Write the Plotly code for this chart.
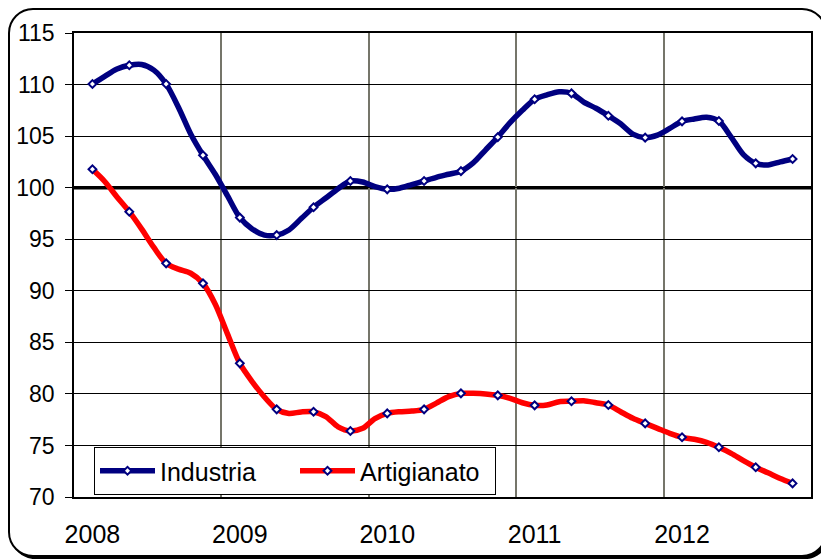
import plotly.graph_objects as go

# ---------------- data ----------------
years = ["2008", "2009", "2010", "2011", "2012"]
# month index counted from Jan 2008 = 0  (Feb 2008 .. Nov 2012)
month_index = list(range(1, 59))
industria = [
    110.05, 110.8, 111.5, 111.87, 111.95, 111.4, 110.05, 107.8, 105.2, 103.14,
    101.3, 99.2, 97.1, 96.0, 95.4, 95.4, 95.9, 97.0, 98.1, 99.0,
    99.9, 100.65, 100.55, 100.1, 99.84, 99.95, 100.3, 100.65, 101.0, 101.3,
    101.6, 102.4, 103.65, 104.9, 106.3, 107.5, 108.57, 109.0, 109.3, 109.15,
    108.3, 107.7, 106.98, 106.2, 105.2, 104.85, 105.1, 105.75, 106.43, 106.66,
    106.82, 106.46, 104.9, 103.2, 102.36, 102.2, 102.5, 102.78,
]
artigianato = [
    101.78, 100.6, 99.1, 97.67, 96.0, 94.2, 92.66, 92.1, 91.7, 90.72,
    88.7, 85.8, 82.96, 81.2, 79.7, 78.5, 78.1, 78.25, 78.27, 77.8,
    76.8, 76.4, 76.66, 77.6, 78.11, 78.27, 78.33, 78.5, 79.1, 79.73,
    80.05, 80.05, 80.0, 79.86, 79.57, 79.14, 78.89, 78.92, 79.24, 79.28,
    79.34, 79.14, 78.92, 78.27, 77.63, 77.14, 76.66, 76.17, 75.79, 75.6,
    75.3, 74.82, 74.23, 73.52, 72.88, 72.35, 71.8, 71.32,
]
reference_level = 100
marker_step = 3  # markers every quarter

# ---------------- layout geometry (pixels) ----------------
OFF = 8                      # page body margin
W, H = 829 - OFF, 560 - OFF
L, T = 74 - OFF, 33 - OFF
R = W - (811 - OFF)
B = H - (497 - OFF)
PW, PH = W - L - R, H - T - B


def px(xp):  # page x pixel -> paper
    return (xp - OFF - L) / PW


def py(yp):  # page y pixel -> paper
    return (H - B - (yp - OFF)) / PH


def rounded_rect(x0, y0, x1, y1, r):
    k = 0.5523 * r
    pts = [
        f"M{px(x0 + r)},{py(y0)}",
        f"L{px(x1 - r)},{py(y0)}",
        f"C{px(x1 - r + k)},{py(y0)} {px(x1)},{py(y0 + r - k)} {px(x1)},{py(y0 + r)}",
        f"L{px(x1)},{py(y1 - r)}",
        f"C{px(x1)},{py(y1 - r + k)} {px(x1 - r + k)},{py(y1)} {px(x1 - r)},{py(y1)}",
        f"L{px(x0 + r)},{py(y1)}",
        f"C{px(x0 + r - k)},{py(y1)} {px(x0)},{py(y1 - r + k)} {px(x0)},{py(y1 - r)}",
        f"L{px(x0)},{py(y0 + r)}",
        f"C{px(x0)},{py(y0 + r - k)} {px(x0 + r - k)},{py(y0)} {px(x0 + r)},{py(y0)}",
        "Z",
    ]
    return " ".join(pts)


x = [k + 0.5 for k in month_index]
NAVY = "#000080"
RED = "#FF0000"
FONT = "Liberation Sans, Arial, sans-serif"

fig = go.Figure()
series = [("Industria", industria, NAVY), ("Artigianato", artigianato, RED)]
marker_style = dict(symbol="diamond", size=6, color="white", line=dict(color=NAVY, width=2))

for name, vals, color in series:
    fig.add_trace(go.Scatter(
        x=x, y=vals, mode="lines",
        line=dict(color=color, width=5.5, shape="spline", smoothing=0.8),
        showlegend=False, hoverinfo="skip"))
for name, vals, color in series:
    fig.add_trace(go.Scatter(
        x=x[::marker_step], y=vals[::marker_step], mode="markers",
        marker=marker_style, showlegend=False))
for name, vals, color in series:
    fig.add_trace(go.Scatter(
        x=[None], y=[None], mode="lines+markers", name=name,
        line=dict(color=color, width=5.5), marker=marker_style))

shapes = [
    # chart frame with shadow
    dict(type="path", xref="paper", yref="paper", layer="below",
         path=rounded_rect(11, 11, 829, 559, 24),
         fillcolor="black", line=dict(width=0)),
    dict(type="path", xref="paper", yref="paper", layer="below",
         path=rounded_rect(9, 9, 826, 556, 24),
         fillcolor="white", line=dict(color="black", width=2)),
    # 100 reference line
    dict(type="line", xref="x", yref="y", x0=0, x1=60,
         y0=reference_level, y1=reference_level, layer="below",
         line=dict(color="black", width=3.5)),
]

fig.update_layout(
    width=W, height=H,
    margin=dict(l=L, r=R, t=T, b=B, autoexpand=False),
    paper_bgcolor="white",
    plot_bgcolor="#FFFFCC",
    font=dict(family=FONT, color="black"),
    shapes=shapes,
    showlegend=True,
    legend=dict(
        orientation="h", x=px(94), y=py(447), xanchor="left", yanchor="top",
        bgcolor="white", bordercolor="black", borderwidth=1,
        font=dict(size=25, family=FONT, color="black"),
        itemwidth=55, entrywidth=130, traceorder="normal",
    ),
    xaxis=dict(
        range=[0, 60],
        tickmode="array",
        tickvals=[1.5 + 12 * i for i in range(len(years))],
        ticktext=years,
        ticks="", showgrid=False, zeroline=False,
        tickfont=dict(size=25, family=FONT, color="black"),
        ticklabelstandoff=14,
        showline=True, linecolor="black", linewidth=1.5, mirror=True,
        minor=dict(tickmode="array", tickvals=[12, 24, 36, 48],
                   showgrid=True, gridcolor="#75756a", gridwidth=1.5, ticks=""),
    ),
    yaxis=dict(
        range=[70, 115], tick0=70, dtick=5,
        ticks="outside", ticklen=7, tickcolor="black", tickwidth=1,
        showgrid=True, gridcolor="black", gridwidth=1, zeroline=False,
        tickfont=dict(size=23, family=FONT, color="black"),
        ticklabelstandoff=6,
        showline=True, linecolor="black", linewidth=1.5, mirror=True,
    ),
)

fig.write_html("out.html")
